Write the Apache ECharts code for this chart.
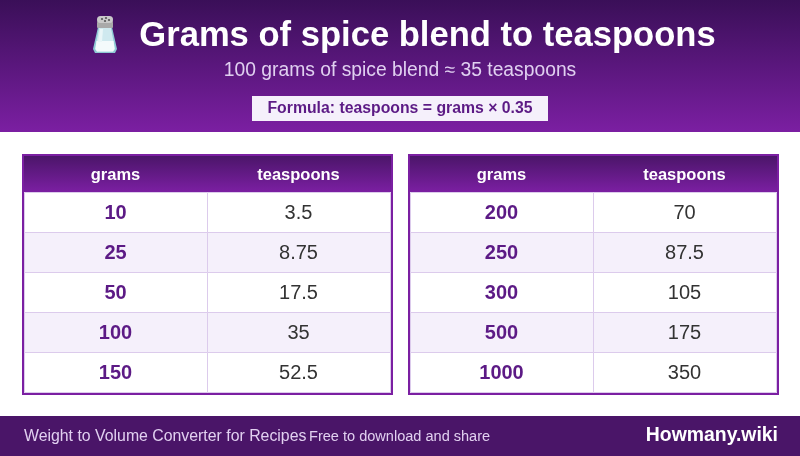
<!DOCTYPE html>
<html><head><meta charset="utf-8">
<style>html,body{margin:0;padding:0;background:#fff}#c{width:800px;height:456px}</style>
<script src="https://cdn.jsdelivr.net/npm/echarts@6/dist/echarts.min.js"></script>
</head><body><div id="c"></div>
<script>
const columns = ['grams', 'teaspoons'];
const leftGrams = [10, 25, 50, 100, 150];
const leftTeaspoons = [3.5, 8.75, 17.5, 35, 52.5];
const rightGrams = [200, 250, 300, 500, 1000];
const rightTeaspoons = [70, 87.5, 105, 175, 350];
const titleText = 'Grams of spice blend to teaspoons';
const subtitleText = '100 grams of spice blend ≈ 35 teaspoons';
const formulaText = 'Formula: teaspoons = grams × 0.35';
const footerLeft = 'Weight to Volume Converter for Recipes';
const footerMiddle = 'Free to download and share';
const footerBrand = 'Howmany.wiki';

const FONT = '"Liberation Sans", Arial, sans-serif';
const PURPLE = '#7b1fa2', INK = '#5c1a85';
const tablePos = [{left: 24}, {left: 410}];
const grad = (a, b) => new echarts.graphic.LinearGradient(0, 0, 0, 1, [{offset: 0, color: a}, {offset: 1, color: b}]);

function cells(grams, teas) {
  const out = [];
  grams.forEach((g, i) => { out.push([0, i, g]); out.push([1, i, teas[i]]); });
  return out;
}
function renderCell(params, api) {
  const col = api.value(0), row = api.value(1);
  const c = api.coord([col, row]), s = api.size([1, 1]);
  const x = c[0] - s[0] / 2, y = c[1] - s[1] / 2;
  return {
    type: 'group',
    children: [
      {type: 'rect', shape: {x: x + 0.5, y: y + 0.5, width: s[0], height: s[1]},
       style: {fill: row % 2 ? '#f5f0fb' : '#ffffff', stroke: '#dccbec', lineWidth: 1}},
      {type: 'text', x: c[0], y: c[1] + 1.5,
       style: {text: String(api.value(2)), align: 'center', verticalAlign: 'middle',
         font: (col === 0 ? 'bold ' : '') + '20px ' + FONT, fill: col === 0 ? INK : '#333333'}}
    ]
  };
}
const tables = [[leftGrams, leftTeaspoons], [rightGrams, rightTeaspoons]];
const grid = [], xAxis = [], yAxis = [], series = [];
tables.forEach((t, i) => {
  grid.push({left: tablePos[i].left, top: 192, width: 366, height: 200});
  xAxis.push({type: 'category', gridIndex: i, data: columns, position: 'top',
    axisLine: {show: false}, axisTick: {show: false}, splitLine: {show: false},
    axisLabel: {color: '#fff', fontFamily: FONT, fontWeight: 'bold', fontSize: 16.5, margin: 17, verticalAlign: 'middle'}, z: 10});
  yAxis.push({type: 'category', gridIndex: i, inverse: true, show: false, data: t[0].map(String)});
  series.push({type: 'custom', xAxisIndex: i, yAxisIndex: i, coordinateSystem: 'cartesian2d',
    renderItem: renderCell, data: cells(t[0], t[1]), silent: true, animation: false, clip: false});
});
const shaker = [
  {type: 'polygon', z: 4, shape: {points: [[98, 27], [112, 27], [117, 49], [115, 53], [95, 53], [93, 49]]}, style: {fill: '#8fc9d4'}},
  {type: 'polygon', z: 4, shape: {points: [[99, 28], [111, 28], [115, 49], [113, 51.5], [97, 51.5], [95, 49]]}, style: {fill: '#cfe9ef'}},
  {type: 'polygon', z: 4, shape: {points: [[96.5, 41], [113.5, 41], [114.5, 49], [113, 51.5], [97, 51.5], [95.5, 49]]}, style: {fill: '#f4fafb'}},
  {type: 'polygon', z: 4, shape: {points: [[100, 29], [103, 29], [102, 42], [98, 42]]}, style: {fill: '#eaf6f8'}},
  {type: 'rect', z: 4, shape: {x: 97, y: 17, width: 16, height: 11, r: [6, 6, 1, 1]}, style: {fill: '#a9a9a9'}},
  {type: 'rect', z: 4, shape: {x: 97, y: 16, width: 16, height: 7, r: 3.5}, style: {fill: '#c9c9c9'}},
  {type: 'circle', z: 4, shape: {cx: 102, cy: 19, r: 1.1}, style: {fill: '#555'}},
  {type: 'circle', z: 4, shape: {cx: 106, cy: 18, r: 1.1}, style: {fill: '#555'}},
  {type: 'circle', z: 4, shape: {cx: 109, cy: 20, r: 1.1}, style: {fill: '#555'}},
  {type: 'circle', z: 4, shape: {cx: 105, cy: 21, r: 1.1}, style: {fill: '#555'}}
];
const graphic = [
  {type: 'rect', z: -5, shape: {x: 0, y: 0, width: 800, height: 132}, style: {fill: grad('#3a0f58', PURPLE)}},
  ...shaker,
  {type: 'text', z: 5, x: 427.5, y: 36, style: {text: titleText, align: 'center', verticalAlign: 'middle', font: 'bold 34.6px ' + FONT, fill: '#fff'}},
  {type: 'text', z: 5, x: 400, y: 71, style: {text: subtitleText, align: 'center', verticalAlign: 'middle', font: '19.3px ' + FONT, fill: '#e0d0f0'}},
  {type: 'rect', z: 1, shape: {x: 252, y: 96, width: 296, height: 25}, style: {fill: '#f5f0fb'}},
  {type: 'text', z: 5, x: 400, y: 109, style: {text: formulaText, align: 'center', verticalAlign: 'middle', font: 'bold 15.8px ' + FONT, fill: INK}},
  {type: 'rect', z: -5, shape: {x: 0, y: 416, width: 800, height: 40}, style: {fill: '#4a1568'}},
  {type: 'text', z: 5, x: 24, y: 436.5, style: {text: footerLeft, align: 'left', verticalAlign: 'middle', font: '15.85px ' + FONT, fill: '#e1d0f0'}},
  {type: 'text', z: 5, x: 309, y: 436.5, style: {text: footerMiddle, align: 'left', verticalAlign: 'middle', font: '14.55px ' + FONT, fill: '#e1d0f0'}},
  {type: 'text', z: 5, x: 778, y: 436, style: {text: footerBrand, align: 'right', verticalAlign: 'middle', font: 'bold 19.4px ' + FONT, fill: '#fff'}}
];
tablePos.forEach(p => {
  graphic.push({type: 'rect', z: -4, shape: {x: p.left - 1, y: 155, width: 369, height: 37}, style: {fill: grad('#4a1568', PURPLE)}});
  graphic.push({type: 'rect', z: 20, shape: {x: p.left - 1, y: 155, width: 369, height: 239}, style: {fill: 'none', stroke: PURPLE, lineWidth: 2}});
});
const chart = echarts.init(document.getElementById('c'), null, {renderer: 'canvas'});
chart.setOption({backgroundColor: '#fff', animation: false, grid, xAxis, yAxis, series, graphic});
</script></body></html>
